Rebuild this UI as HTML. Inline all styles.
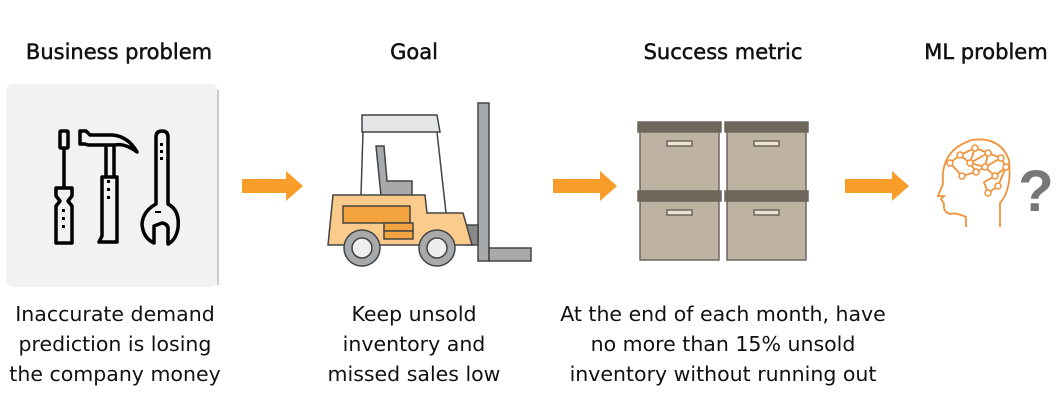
<!DOCTYPE html>
<html><head><meta charset="utf-8"><style>
html,body{margin:0;padding:0;background:#fff;}
svg{display:block}
text{font-family:"DejaVu Sans","Liberation Sans",sans-serif;fill:#111;}
</style></head><body>
<svg width="1064" height="402" viewBox="0 0 1064 402" xmlns="http://www.w3.org/2000/svg">
<!-- headings -->
<g font-size="21" text-anchor="middle" stroke="#111" stroke-width="0.5">
<text x="119" y="59">Business problem</text>
<text x="414" y="59">Goal</text>
<text x="723" y="59">Success metric</text>
<text x="986" y="59">ML problem</text>
</g>
<!-- descriptions -->
<g font-size="20.5" text-anchor="middle" >
<text x="115" y="321">Inaccurate demand</text>
<text x="115" y="351">prediction is losing</text>
<text x="115" y="381">the company money</text>
<text x="414" y="321">Keep unsold</text>
<text x="414" y="351">inventory and</text>
<text x="414" y="381">missed sales low</text>
<text x="723" y="321">At the end of each month, have</text>
<text x="723" y="351">no more than 15% unsold</text>
<text x="723" y="381">inventory without running out</text>
</g>
<!-- gray box -->
<rect x="6" y="84" width="212" height="203" rx="7" fill="#f2f2f2"/>
<line x1="218" y1="90" x2="218" y2="285" stroke="#ccc" stroke-width="2"/>
<!-- tools -->
<g fill="none" stroke="#000" stroke-width="3.5" stroke-linejoin="round">
<rect x="60" y="131" width="8" height="17" rx="1"/>
<line x1="64" y1="148" x2="64" y2="188"/>
<path d="M56 188 H72 V196 L68 201 L72 206 V243 H56 V206 L60 201 L56 196 Z"/>
<path d="M80 131 H86 L90 135 H112 Q128 136 137 152 Q125 143 115 145 H88 L85 144 H80 Z"/>
<path d="M106 145 V177 M114 145 V177"/>
<path d="M102 177 H117 V242 H99 L102 236 Z"/>
<path d="M156 137 Q156 131 162 131 Q168 131 168 137 V204 Q180 210 178 228 Q176 240 168 244 V231 Q169 224 162 223 L154 226 V243 Q143 238 142 224 Q143 211 156 204 Z"/>
</g>
<g fill="#000"><rect x="62" y="209" width="3" height="3"/><rect x="62" y="217" width="3" height="3"/><rect x="62" y="225" width="3" height="3"/>
<rect x="107" y="180" width="3" height="3"/><rect x="107" y="188" width="3" height="3"/><rect x="107" y="196" width="3" height="3"/>
<rect x="160" y="143" width="3" height="3"/><rect x="160" y="150" width="3" height="3"/><rect x="160" y="157" width="3" height="3"/>
<rect x="155" y="211" width="6" height="2"/></g>
<!-- arrows -->
<g fill="#f99d2a">
<path d="M242 179 H286 V171 L303 186 L286 201 V193 H242 Z"/>
<path d="M553 179 H600 V171 L617 186 L600 201 V193 H553 Z"/>
<path d="M845 179 H892 V171 L909 186 L892 201 V193 H845 Z"/>
</g>
<!-- forklift -->
<g stroke="#444" stroke-width="1.5">
<path d="M362 115 H437 L440 132 H362 Z" fill="#e4e5e6"/>
<path d="M363 132 L361 195 M437 132 L446 213" fill="none"/>
<path d="M376 146 H384 L387 181 H412 V196 H381 Z" fill="#a7a9ab"/>
<rect x="478" y="103" width="11" height="158" fill="#a7a9ab"/>
<path d="M489 248 H531 V261 H489 Z" fill="#a7a9ab"/>
<rect x="466" y="225" width="12" height="20" fill="#888"/>
<path d="M333 195 H425 L427 213 H463 L472 245 H328 Z" fill="#fbcb8c"/>
<rect x="343" y="206" width="67" height="17" fill="#f4a43e"/>
<rect x="384" y="223" width="29" height="8" fill="#f4a43e"/>
<rect x="384" y="231" width="29" height="8" fill="#f4a43e"/>
<circle cx="362" cy="248" r="18" fill="#a7a9ab"/><circle cx="362" cy="248" r="10" fill="#eee"/>
<circle cx="437" cy="248" r="18" fill="#a7a9ab"/><circle cx="437" cy="248" r="10" fill="#eee"/>
</g>
<!-- boxes -->
<g stroke="#6f665c" stroke-width="1.5">
<rect x="640" y="131" width="79" height="60" fill="#beb3a3"/>
<rect x="727" y="131" width="79" height="60" fill="#beb3a3"/>
<rect x="640" y="201" width="79" height="59" fill="#beb3a3"/>
<rect x="727" y="201" width="79" height="59" fill="#beb3a3"/>
<rect x="638" y="122" width="83" height="10" fill="#6f665c"/>
<rect x="725" y="122" width="83" height="10" fill="#6f665c"/>
<rect x="638" y="191" width="83" height="10" fill="#6f665c"/>
<rect x="725" y="191" width="83" height="10" fill="#6f665c"/>
<rect x="667" y="141" width="25" height="5" fill="#eee2d2"/>
<rect x="754" y="141" width="25" height="5" fill="#eee2d2"/>
<rect x="667" y="210" width="25" height="5" fill="#eee2d2"/>
<rect x="754" y="210" width="25" height="5" fill="#eee2d2"/>
</g>
<!-- head -->
<g fill="none" stroke="#f0923a" stroke-width="1.8">
<path d="M966 227 V217 Q955 212 950 214 Q943 212 944 204 L941 199 L944 196 L938 196 L943 184 Q940 150 972 140 Q1000 136 1009 160 Q1012 190 1000 203 V227"/>
<path d="M950 163 L960 155 L975 148 L988 153 L1001 158 L1006 167 L995 176 L984 182 L988 193 M960 155 L970 163 L976 172 L962 176 L950 163 M975 148 L970 163 L988 153 L985 167 L970 163 M985 167 L1001 158 M985 167 L995 176 M976 172 L985 167 M1006 167 L998 186 L988 193"/>
</g>
<g fill="#fff" stroke="#f0923a" stroke-width="1.5">
<circle cx="950" cy="163" r="3"/><circle cx="960" cy="155" r="3"/><circle cx="975" cy="148" r="3"/><circle cx="988" cy="153" r="3"/><circle cx="1001" cy="158" r="3"/><circle cx="1006" cy="167" r="3"/><circle cx="970" cy="163" r="3"/><circle cx="985" cy="167" r="3"/><circle cx="976" cy="172" r="3"/><circle cx="962" cy="176" r="3"/><circle cx="995" cy="176" r="3"/><circle cx="998" cy="186" r="3"/><circle cx="988" cy="193" r="3"/>
</g>
<text x="1036" y="211" font-size="58" font-weight="bold" text-anchor="middle" style="fill:#777;font-family:'Liberation Sans',sans-serif">?</text>
</svg>
</body></html>
